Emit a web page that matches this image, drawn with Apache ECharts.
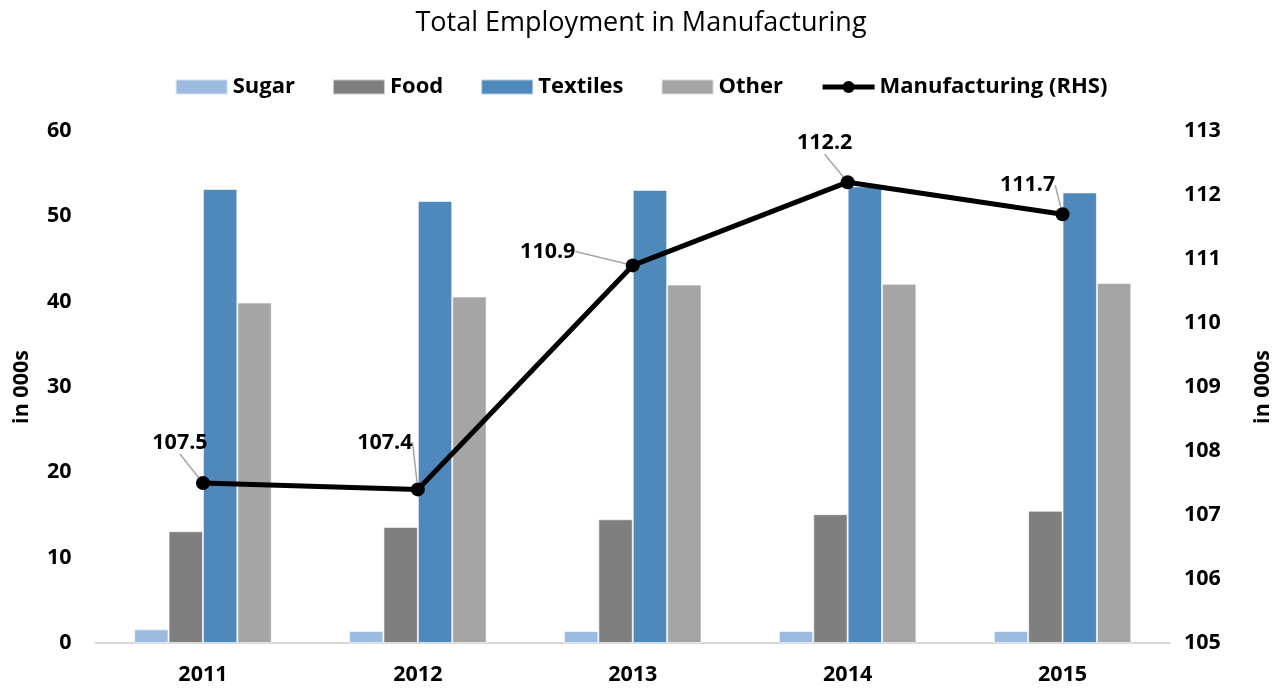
<!DOCTYPE html>
<html><head><meta charset="utf-8">
<script src="https://cdn.jsdelivr.net/npm/echarts@6/dist/echarts.min.js"></script>
<style>html,body{margin:0;padding:0;background:#fff}#c{width:1282px;height:691px}</style>
</head><body><div id="c"></div>
<script>
const years = ['2011','2012','2013','2014','2015'];
const sugar = [1.6, 1.4, 1.4, 1.4, 1.4];
const food = [13.1, 13.6, 14.5, 15.1, 15.5];
const textiles = [53.2, 51.8, 53.1, 53.5, 52.8];
const other = [39.9, 40.6, 42.0, 42.1, 42.2];
const manufacturing = [107.5, 107.4, 110.9, 112.2, 111.7];
const leftTicks = {min: 0, max: 60, interval: 10};
const rightTicks = {min: 105, max: 113, interval: 1};

const FONT = '"Open Sans", "Noto Sans", sans-serif';
const labelOffsets = [[-23,-17],[-33,-24],[-85,9],[-23,-16],[-35,-6]];

const chart = echarts.init(document.getElementById('c'), null, {renderer:'canvas'});
const barStyle = (c) => ({color: c, borderColor: 'rgba(255,255,255,0.6)', borderWidth: 1});
const bold = {fontFamily: FONT, fontSize: 21.5, fontWeight: 700, color: '#000'};
chart.setOption({
  animation: false,
  textStyle: {fontFamily: FONT},
  title: {text: 'Total Employment in Manufacturing', left: 'center', top: 5,
    textStyle: {fontFamily: FONT, fontSize: 27, fontWeight: 'normal', color: '#000'}},
  legend: {top: 71, left: 'center', itemWidth: 52, itemHeight: 15, itemGap: 37,
    textStyle: {...bold, fontSize: 22},
    data: [
      {name: 'Sugar', icon: 'rect'}, {name: 'Food', icon: 'rect'},
      {name: 'Textiles', icon: 'rect'}, {name: 'Other', icon: 'rect'},
      {name: 'Manufacturing (RHS)', lineStyle: {width: 5, color: '#000'}}]},
  grid: {left: 95.5, right: 111.5, top: 131, bottom: 48},
  xAxis: {type: 'category', data: years,
    axisLine: {lineStyle: {color: '#D9D9D9', width: 2}}, axisTick: {show: false},
    axisLabel: {...bold, margin: 21}},
  yAxis: [
    {type: 'value', ...leftTicks, splitLine: {show: false}, axisLine: {show: false}, axisTick: {show: false},
     axisLabel: {...bold, margin: 24},
     name: 'in 000s', nameLocation: 'middle', nameGap: 63, nameRotate: 90,
     nameTextStyle: bold},
    {type: 'value', ...rightTicks, splitLine: {show: false}, axisLine: {show: false}, axisTick: {show: false},
     axisLabel: {...bold, margin: 14},
     name: 'in 000s', nameLocation: 'middle', nameGap: 82, nameRotate: 90,
     nameTextStyle: bold}
  ],
  series: [
    {name: 'Sugar', type: 'bar', data: sugar, barGap: '0%', barCategoryGap: '36%', itemStyle: barStyle('#9BBBE0')},
    {name: 'Food', type: 'bar', data: food, itemStyle: barStyle('#7F7F7F')},
    {name: 'Textiles', type: 'bar', data: textiles, itemStyle: barStyle('#4F88BB')},
    {name: 'Other', type: 'bar', data: other, itemStyle: barStyle('#A5A5A5')},
    {name: 'Manufacturing (RHS)', type: 'line', yAxisIndex: 1, data: manufacturing,
     symbol: 'circle', symbolSize: 14, color: '#000',
     lineStyle: {color: '#000', width: 5}, itemStyle: {color: '#000'},
     label: {show: true, position: 'top', ...bold,
       formatter: p => p.value.toFixed(1)},
     labelLine: {show: true, length2: 0, lineStyle: {color: '#A6A6A6', width: 1.5}},
     labelLayout: (p) => ({dx: labelOffsets[p.dataIndex][0], dy: labelOffsets[p.dataIndex][1]}),
     z: 5}
  ]
});
</script></body></html>
